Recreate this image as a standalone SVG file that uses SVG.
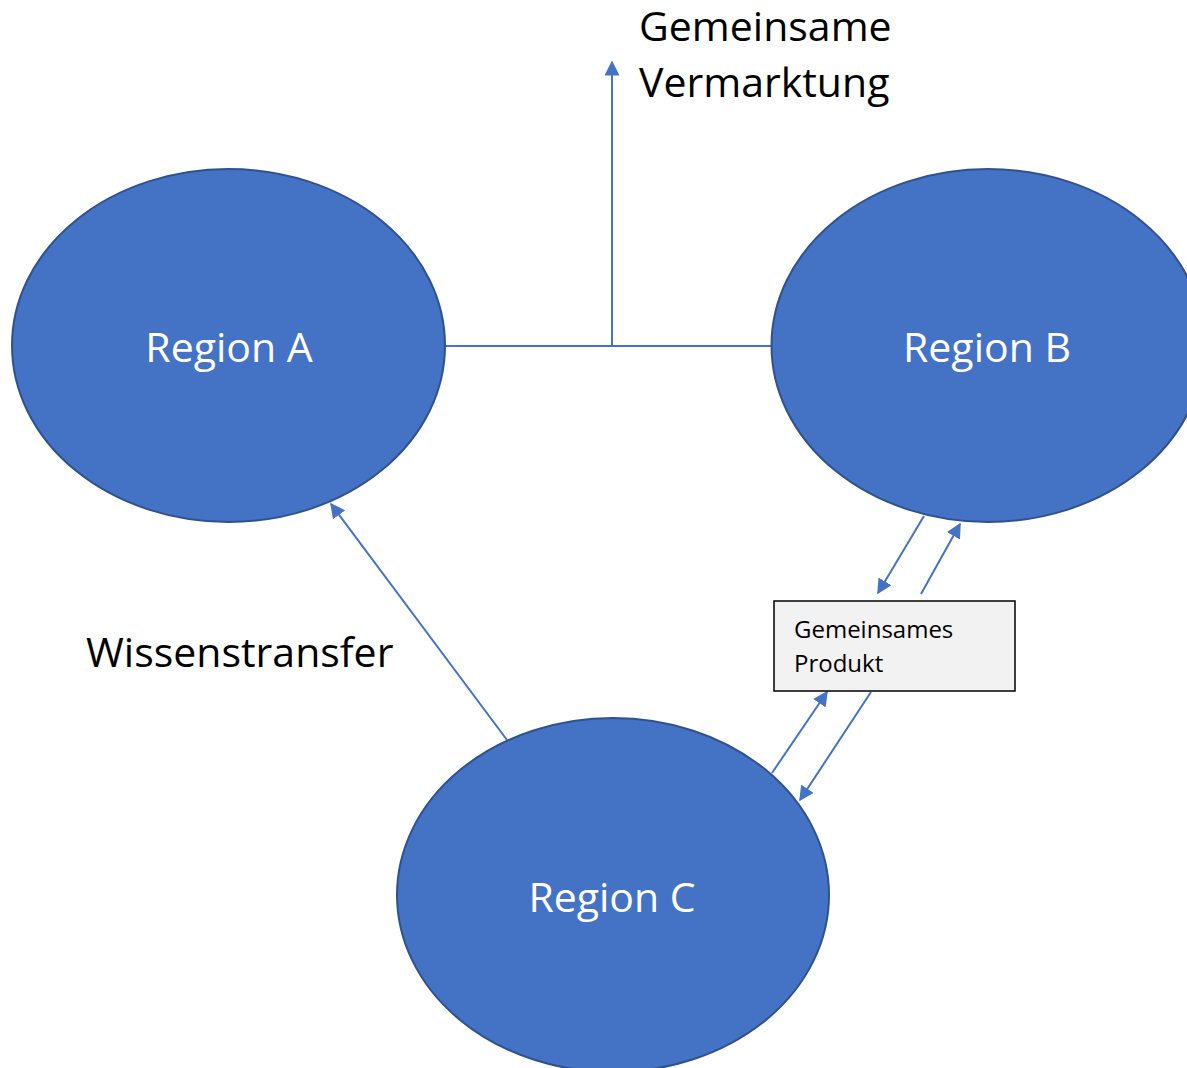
<svg xmlns="http://www.w3.org/2000/svg" width="1187" height="1068" viewBox="0 0 1187 1068">
<style>
.node{fill:#4472C4;stroke:#2F528F;stroke-width:2}
.lbl{font-family:"Open Sans","Liberation Sans",sans-serif;font-size:41px;fill:#FFFFFF;text-anchor:middle}
.txt{font-family:"Open Sans","Liberation Sans",sans-serif;font-size:41px;fill:#000000}
.con{stroke:#4472C4;stroke-width:2;fill:none}
.small{font-family:"Open Sans","Liberation Sans",sans-serif;font-size:24px;fill:#000000}
</style>
<defs>
<marker id="ah2" viewBox="0 0 10 10" refX="9" refY="5" markerWidth="15" markerHeight="15" orient="auto" markerUnits="userSpaceOnUse">
<path d="M0,0 L10,5 L0,10 Z" fill="#4472C4"/>
</marker>
</defs>
<rect width="1187" height="1068" fill="#FFFFFF"/>
<g id="connectors">
<line class="con" x1="445" y1="346" x2="771" y2="346"/>
<line class="con" x1="612" y1="346" x2="612" y2="62" marker-end="url(#ah2)"/>
<line class="con" x1="507" y1="740" x2="331" y2="504" marker-end="url(#ah2)"/>
<line class="con" x1="924" y1="516" x2="878" y2="593" marker-end="url(#ah2)"/>
<line class="con" x1="921" y1="594" x2="960" y2="524" marker-end="url(#ah2)"/>
<line class="con" x1="772" y1="773" x2="827" y2="692" marker-end="url(#ah2)"/>
<line class="con" x1="871" y1="692" x2="800" y2="800" marker-end="url(#ah2)"/>
</g>
<g id="regionA">
<ellipse class="node" cx="228.5" cy="345.5" rx="216.5" ry="176.5"/>
<text class="lbl" x="229" y="362">Region A</text>
</g>
<g id="regionB">
<ellipse class="node" cx="988" cy="345.5" rx="216.5" ry="176.5"/>
<text class="lbl" x="987" y="362">Region B</text>
</g>
<g id="regionC">
<ellipse class="node" cx="613" cy="895" rx="216" ry="177"/>
<text class="lbl" x="612" y="912">Region C</text>
</g>
<g id="produkt">
<rect x="774" y="601" width="241" height="90" fill="#F2F2F2" stroke="#000000" stroke-width="1.5"/>
<text class="small" x="794" y="638">Gemeinsames</text>
<text class="small" x="794" y="672">Produkt</text>
</g>
<g id="vermarktung">
<text class="txt" x="639" y="41">Gemeinsame</text>
<text class="txt" x="639" y="97">Vermarktung</text>
</g>
<g id="wissenstransfer">
<text class="txt" x="86" y="667">Wissenstransfer</text>
</g>
</svg>
